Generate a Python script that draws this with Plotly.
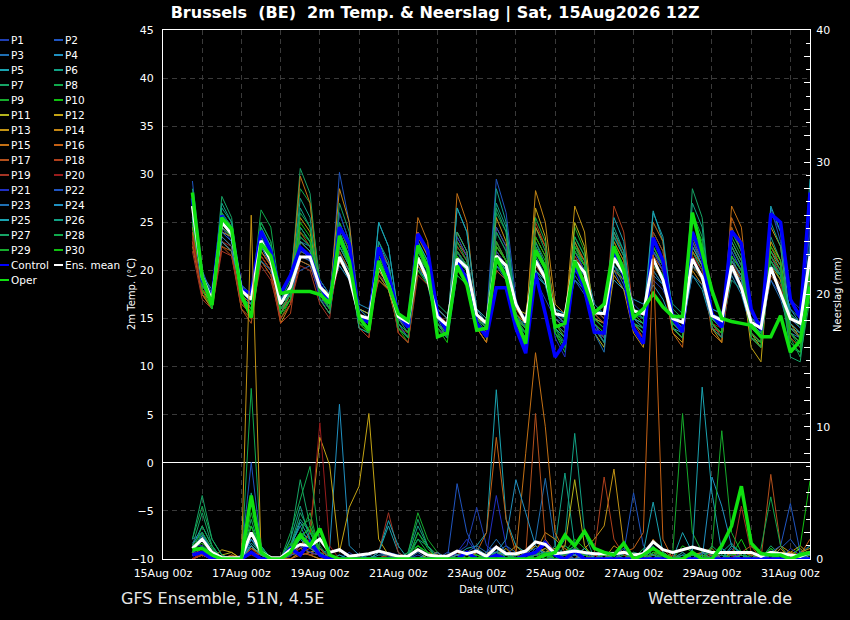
import pandas as pd
import plotly.graph_objects as go

# 6-hourly steps, 15Aug 18z .. 31Aug 12z (64 steps)
times = pd.date_range("2026-08-15 18:00", periods=64, freq="6h")

names = [f"P{i}" for i in range(1, 31)]
colors = ["#1f3fb4", "#1f55c0", "#1f6fb2", "#2090c0", "#1aa3b0", "#12a285",
          "#16a465", "#10a84c", "#16ac2c", "#10c010", "#b4b41c", "#c4a414",
          "#c49414", "#c48614", "#c47014", "#c46014", "#b4501c", "#b0401c",
          "#a43424", "#981c1c", "#2030c4", "#2055c0", "#1f70b2", "#2090c0",
          "#1aa3b0", "#12a285", "#16a465", "#10a84c", "#16ac2c", "#10c010"]

# 2m temperature (°C)
T_P1 = [27.0, 19.5,17.0,24.5,23.0, 18.5,17.5,22.0,20.5, 16.0,17.5,22.5,21.0, 18.0,16.5,22.0,19.0, 15.5,14.5,19.5,18.5, 14.5,13.5,22.0,20.0, 16.0,15.0,20.5,19.5, 15.0,14.0,22.5,21.0, 16.5,15.0,19.0,17.0, 15.0,14.5,20.0,18.5, 14.0,13.0,22.5,20.5, 16.5,15.5,19.0,18.0, 15.5,15.0,21.0,19.5, 14.5,13.5,22.0,20.0, 15.5,14.5,19.0,17.5, 14.0,13.5,20.5]
T_P2 = [29.3, 20.0,16.5,26.0,24.5, 18.0,16.5,24.0,22.0, 17.0,19.0,20.0,20.5, 17.5,16.0,30.2,25.0, 16.0,15.5,21.0,19.0, 15.5,14.0,24.0,21.5, 15.0,13.0,22.0,20.0, 16.0,15.0,29.5,26.0, 17.0,14.0,21.0,19.5, 16.0,15.5,19.0,17.5, 14.5,13.5,20.0,18.0, 15.0,14.0,23.5,21.0, 14.0,13.0,21.5,19.0, 16.0,15.5,20.0,18.0, 13.5,12.5,26.5,23.0, 17.0,15.5,24.0]
T_P3 = [25.5, 18.5,17.5,24.0,23.5, 17.5,16.5,23.5,21.5, 16.5,17.5,23.0,22.5, 18.5,17.0,21.0,19.5, 14.5,14.0,20.5,18.0, 15.0,14.5,21.0,19.0, 15.5,14.0,20.0,19.5, 14.5,13.5,24.0,22.0, 15.5,14.0,22.5,20.0, 15.5,15.0,22.0,20.0, 16.0,15.0,20.5,18.5, 15.5,15.0,19.5,18.5, 15.0,14.0,23.0,20.5, 15.5,15.0,21.5,19.0, 15.0,14.0,19.0,17.0, 13.5,13.0,19.0]
T_P4 = [26.0, 18.5,16.5,25.0,24.0, 17.5,16.0,22.5,20.5, 16.0,17.0,24.5,23.0, 19.0,17.5,20.5,19.0, 16.0,15.5,23.0,20.5, 15.0,13.5,20.5,18.5, 14.0,13.0,19.5,18.5, 16.0,14.5,20.5,19.5, 14.0,13.0,23.0,20.5, 15.0,14.0,22.5,21.0, 16.5,15.5,19.0,18.0, 17.0,16.5,18.5,17.0, 14.5,13.5,22.0,20.0, 16.0,15.5,19.5,17.5, 14.0,13.0,21.5,19.5, 16.0,15.0,22.5]
T_P5 = [24.5, 19.0,17.0,24.0,23.0, 18.0,17.5,23.0,21.0, 17.0,18.5,21.0,20.5, 18.0,16.0,24.0,21.5, 14.0,13.5,25.0,22.5, 15.5,14.5,20.0,19.0, 14.5,13.5,26.5,24.0, 15.5,14.0,21.0,19.5, 15.0,14.5,20.0,18.5, 16.0,15.5,20.5,19.5, 15.0,14.0,23.5,21.5, 16.0,15.0,26.2,23.0, 15.5,14.5,19.5,18.0, 14.5,13.0,21.0,19.0, 15.0,14.5,22.0,20.5, 15.5,14.5,29.5]
T_P6 = [27.5, 19.0,16.5,26.5,25.0, 18.0,16.5,24.0,22.0, 15.5,18.0,26.5,24.5, 17.0,16.5,23.0,20.5, 15.0,14.5,21.5,19.5, 14.0,13.0,23.0,21.0, 15.5,14.5,21.5,20.5, 15.0,14.0,28.5,25.0, 16.0,15.0,19.5,18.5, 14.5,13.5,21.5,20.0, 15.0,14.5,24.5,22.0, 14.5,13.5,22.0,20.0, 16.5,15.5,20.5,19.0, 15.5,14.0,19.0,18.0, 14.5,13.5,23.5,21.0, 14.0,13.5,21.0]
T_P7 = [28.5, 19.5,17.0,27.7,25.5, 17.0,16.0,25.0,23.0, 16.5,18.0,30.6,28.0, 18.0,16.5,22.0,20.0, 15.5,15.0,20.0,18.5, 15.0,14.5,22.5,20.5, 16.5,15.5,20.0,19.0, 15.0,13.5,23.0,21.0, 14.0,12.0,24.5,22.0, 16.0,15.0,19.5,18.0, 15.5,14.5,22.0,20.0, 16.0,15.5,20.5,19.0, 14.0,13.0,28.5,25.5, 15.0,14.0,21.0,19.5, 13.0,12.5,20.0,18.0, 12.0,11.5,18.0]
T_P8 = [26.5, 18.0,16.0,25.5,24.5, 18.5,17.0,26.3,24.5, 17.0,19.0,28.5,27.0, 19.0,17.5,26.0,23.0, 16.0,15.0,19.5,18.0, 14.5,13.0,21.5,19.5, 14.0,13.0,22.0,20.5, 14.0,12.5,26.0,24.0, 15.0,13.5,23.0,21.0, 13.5,11.5,23.0,20.5, 14.5,13.5,20.5,19.0, 15.0,14.0,24.0,22.0, 16.0,15.0,22.0,20.0, 15.0,14.5,22.5,20.5, 14.0,13.0,21.0,19.0, 13.0,11.0,17.0]
T_P9 = [27.0, 19.0,17.5,25.0,24.0, 17.5,16.0,24.5,22.5, 16.0,17.5,22.0,21.5, 18.5,17.0,23.5,21.0, 14.5,14.0,22.0,20.0, 15.5,14.0,20.5,19.0, 15.0,14.0,22.5,21.0, 15.5,14.5,21.0,19.5, 14.5,13.0,21.5,19.5, 14.0,12.5,24.5,22.0, 15.5,14.5,22.0,20.5, 14.5,14.0,21.0,19.0, 15.0,14.0,25.5,23.0, 14.0,13.0,20.0,18.5, 15.0,14.0,21.0,19.0, 15.5,14.0,21.0]
T_P10 = [25.5, 18.0,16.5,26.0,24.5, 17.5,15.5,23.5,21.5, 15.0,17.0,24.0,23.0, 17.0,15.5,25.0,22.5, 15.5,14.5,21.0,19.0, 14.0,12.5,20.0,18.5, 15.0,14.0,19.5,18.5, 14.5,13.0,22.0,20.5, 15.5,14.0,20.5,19.0, 15.0,14.0,21.0,19.5, 14.0,13.0,23.0,21.0, 16.0,15.0,20.0,18.5, 15.5,14.5,20.5,19.0, 15.0,14.0,24.5,22.0, 14.5,13.5,20.0,18.5, 12.5,11.5,19.5]
T_P11 = [25.0, 18.0,17.0,24.5,23.5, 17.0,16.5,23.0,21.0, 16.5,18.0,21.5,21.0, 18.5,17.5,21.0,19.5, 16.0,15.5,19.0,18.0, 14.5,13.5,22.0,20.0, 15.5,14.5,23.5,21.5, 15.0,14.5,20.0,19.0, 16.0,15.5,22.5,20.5, 14.5,13.5,25.0,22.5, 13.5,12.0,21.5,19.5, 15.0,14.5,22.5,20.5, 14.0,13.0,21.0,19.5, 15.5,14.5,20.5,19.0, 13.5,12.0,22.5,20.5, 14.5,13.5,20.0]
T_P12 = [24.0, 18.0,16.5,23.5,22.5, 17.0,15.0,21.5,20.0, 15.5,17.0,23.0,22.0, 17.5,16.0,22.5,20.5, 15.0,14.0,20.0,18.5, 15.0,14.0,21.5,20.0, 14.5,13.0,24.0,22.0, 14.0,12.5,22.5,21.0, 15.5,14.5,26.5,23.5, 14.5,13.0,22.0,20.5, 15.0,14.5,20.0,19.0, 15.5,14.5,23.5,21.0, 13.5,12.5,22.5,20.5, 14.0,13.0,21.5,20.0, 12.0,10.5,23.0,21.0, 13.5,12.5,18.5]
T_P13 = [23.5, 17.5,16.0,23.0,22.0, 16.5,15.5,21.0,19.5, 16.0,17.5,25.5,24.0, 18.0,16.5,21.5,19.5, 15.5,15.0,19.5,18.0, 14.0,13.0,23.5,21.5, 15.0,14.0,21.0,20.0, 15.5,14.5,25.5,23.0, 14.5,13.0,24.5,22.5, 15.5,14.5,26.7,24.0, 14.0,12.5,19.5,18.0, 13.5,12.0,21.5,20.0, 14.5,13.5,23.5,21.0, 14.0,12.5,23.0,21.0, 13.5,12.5,24.5,22.5, 14.5,13.0,21.0]
T_P14 = [24.5, 18.5,17.0,24.0,23.5, 17.0,16.0,22.0,20.5, 14.5,16.5,22.0,21.5, 18.0,17.0,28.5,25.0, 15.0,14.0,21.0,19.0, 14.5,13.5,21.0,19.5, 16.0,15.0,22.0,20.5, 15.0,14.0,21.5,20.0, 15.0,14.0,28.3,25.0, 16.5,15.5,23.0,21.0, 14.5,13.0,22.0,20.0, 14.0,13.0,22.0,20.5, 15.5,14.5,20.0,18.5, 15.0,14.0,22.5,20.5, 14.0,13.0,20.5,19.0, 15.0,14.0,20.0]
T_P15 = [23.0, 17.5,16.0,23.5,22.5, 17.5,16.5,22.5,21.0, 15.5,17.5,29.8,27.0, 17.5,16.0,23.0,21.5, 14.5,13.5,20.0,18.5, 15.5,14.5,25.5,23.0, 14.5,13.0,28.0,25.0, 15.0,14.0,22.0,20.5, 16.0,14.5,23.5,21.5, 15.0,14.0,21.5,20.0, 15.5,14.5,23.0,21.0, 14.5,13.5,25.0,23.0, 14.0,13.0,22.0,20.5, 13.5,12.5,26.7,24.5, 14.5,13.5,22.0,20.0, 13.0,12.0,20.0]
T_P16 = [22.5, 17.5,16.5,22.5,22.0, 16.0,15.0,22.0,20.5, 15.0,16.5,21.0,20.5, 17.5,16.5,24.5,22.0, 14.0,13.0,21.5,19.5, 13.5,12.5,20.5,19.0, 15.5,14.5,23.0,21.5, 14.0,12.5,21.0,19.5, 15.5,14.5,22.0,20.0, 14.5,13.5,20.5,19.0, 16.0,15.0,22.5,20.5, 15.0,14.0,20.5,19.0, 13.5,12.0,24.0,21.5, 14.5,13.5,25.5,23.0, 13.0,12.0,21.0,19.5, 14.0,13.0,17.5]
T_P17 = [24.0, 18.0,16.0,22.5,21.5, 16.0,14.5,21.5,20.0, 15.5,17.0,24.0,22.5, 17.0,15.5,22.0,20.0, 15.0,14.5,22.5,20.5, 14.5,13.5,24.0,22.0, 14.0,13.0,21.5,20.0, 15.0,14.0,24.5,22.5, 14.0,12.5,21.0,19.5, 14.0,13.0,22.5,21.0, 15.0,14.0,24.0,21.5, 14.5,13.0,21.5,20.0, 15.5,14.5,21.5,20.0, 14.0,13.5,24.5,22.0, 14.5,13.5,19.5,18.0, 14.0,13.0,19.5]
T_P18 = [23.0, 17.5,16.5,23.0,22.0, 17.0,16.0,21.0,19.5, 14.5,15.5,22.5,21.5, 17.5,17.0,21.0,19.5, 15.5,14.5,19.0,18.0, 15.0,14.0,22.5,20.5, 14.5,13.5,20.0,19.0, 16.0,15.0,23.0,21.0, 15.0,14.0,25.0,22.5, 15.0,14.0,20.0,19.0, 14.5,13.5,26.7,24.0, 15.5,14.5,21.0,19.5, 14.5,13.5,23.0,21.0, 15.0,14.0,21.0,19.5, 13.5,12.5,22.5,20.5, 14.5,13.5,18.5]
T_P19 = [22.0, 17.0,16.0,22.0,21.5, 16.5,15.5,20.5,19.0, 15.0,16.5,20.5,20.0, 16.5,15.0,23.5,21.0, 14.0,13.0,20.5,19.0, 13.5,12.5,19.5,18.5, 15.0,14.0,22.5,21.0, 14.5,13.5,20.0,19.0, 14.0,13.0,22.0,20.5, 15.5,14.5,21.0,19.5, 14.0,13.0,21.5,20.0, 14.0,13.0,24.0,22.0, 15.0,14.0,20.5,19.0, 14.5,13.0,20.0,18.5, 15.0,14.0,21.5,19.5, 13.5,12.5,19.0]
T_P20 = [23.5, 18.0,17.0,23.0,22.5, 17.0,16.5,21.5,20.0, 16.0,17.5,21.5,21.0, 17.5,16.0,21.0,19.5, 15.5,15.0,19.5,18.5, 14.0,13.5,21.0,19.5, 15.5,14.5,21.0,20.0, 14.5,13.5,21.5,20.0, 15.5,14.0,20.5,19.0, 14.5,13.5,21.5,20.0, 15.5,14.5,21.0,19.5, 14.0,13.0,22.0,20.5, 14.5,13.5,21.5,20.0, 14.5,14.0,21.0,19.0, 14.0,13.0,20.0,18.5, 14.5,13.5,19.5]
T_P21 = [28.0, 19.0,16.5,25.5,24.0, 18.0,16.5,23.5,21.5, 16.5,18.0,21.5,21.0, 17.0,16.0,26.0,23.0, 15.5,14.5,22.0,20.0, 15.0,14.0,22.5,20.5, 14.0,13.0,23.5,21.5, 15.5,14.5,22.0,20.5, 14.5,13.0,22.5,20.5, 13.0,11.0,20.5,19.0, 14.5,13.0,22.5,20.5, 15.0,14.0,22.0,20.0, 14.5,13.5,21.0,19.5, 15.5,14.5,22.5,20.5, 14.5,13.0,26.0,24.0, 17.0,16.0,24.5]
T_P22 = [26.0, 20.0,17.5,24.0,23.0, 18.5,17.5,22.5,21.0, 17.0,18.5,22.0,21.5, 19.0,17.5,24.0,21.5, 16.0,15.0,20.5,19.0, 14.5,13.0,21.5,19.5, 15.0,14.0,22.0,20.5, 14.5,13.5,24.5,22.5, 15.0,13.5,21.5,19.5, 15.5,14.5,22.0,20.0, 14.5,12.5,23.5,21.5, 16.0,15.0,20.0,18.5, 15.0,14.0,23.0,21.0, 14.0,13.0,22.0,20.0, 14.0,13.5,21.5,20.0, 15.0,14.0,22.0]
T_P23 = [25.0, 19.0,17.0,23.5,22.5, 17.5,16.0,22.5,21.0, 15.5,17.0,21.5,21.0, 18.0,16.5,22.5,20.5, 15.5,14.5,21.0,19.5, 15.0,14.0,22.0,20.5, 14.5,13.0,21.0,20.0, 15.5,14.5,20.5,19.0, 14.5,13.5,22.0,20.5, 15.0,14.0,21.0,19.5, 13.5,11.5,21.0,19.5, 15.5,14.5,22.0,20.5, 15.0,14.0,19.5,18.5, 14.5,13.5,21.5,20.0, 13.0,12.0,21.0,19.5, 13.5,12.5,23.0]
T_P24 = [26.5, 19.5,18.0,23.0,22.0, 18.0,17.0,21.0,20.0, 17.0,17.5,23.5,22.5, 18.5,17.0,21.5,20.0, 16.5,16.0,22.0,20.5, 15.5,14.5,21.0,19.5, 16.0,15.0,20.5,19.5, 15.0,14.0,21.5,20.0, 14.5,13.5,19.5,18.5, 15.5,14.5,19.0,18.0, 16.0,15.5,20.5,19.5, 15.0,14.5,21.0,19.5, 14.0,13.5,20.5,19.5, 15.0,14.5,20.0,19.0, 15.0,14.0,20.5,19.5, 16.0,14.5,20.0]
T_P25 = [25.5, 18.5,17.0,25.5,24.0, 17.0,16.5,24.0,22.5, 16.0,17.5,23.0,22.0, 17.5,16.0,23.5,21.5, 15.0,14.5,25.0,22.5, 15.5,14.5,23.0,21.0, 15.0,14.0,26.5,24.0, 16.0,15.0,21.5,20.0, 15.0,14.0,20.0,19.0, 14.0,13.0,22.5,20.5, 15.0,14.0,25.5,23.0, 14.5,13.5,26.0,23.5, 15.5,14.5,22.5,20.5, 15.0,14.0,21.0,19.5, 14.0,13.0,26.7,24.0, 14.5,13.5,21.5]
T_P26 = [27.0, 19.0,16.0,27.0,25.0, 17.5,16.0,24.5,22.5, 16.5,17.5,27.5,25.5, 17.0,15.5,22.5,20.5, 14.0,13.5,23.0,21.0, 14.5,13.5,21.5,20.0, 15.5,14.0,24.0,22.0, 14.5,13.0,27.0,24.5, 15.5,14.0,22.0,20.0, 14.5,13.5,23.5,21.5, 14.0,12.5,24.0,22.0, 15.0,14.0,23.0,21.0, 14.0,13.0,27.0,24.5, 15.0,14.0,23.0,21.0, 14.5,13.5,25.0,22.5, 14.0,13.0,27.0]
T_P27 = [26.0, 18.5,16.5,24.5,23.5, 17.0,15.5,23.5,21.5, 15.5,17.0,24.5,23.0, 18.0,16.0,27.0,24.0, 15.0,14.0,20.5,19.0, 14.0,13.0,22.5,20.5, 14.5,13.5,21.0,20.0, 15.0,14.0,26.5,24.0, 14.0,12.5,21.0,19.5, 13.5,12.5,20.0,19.0, 15.0,14.0,23.5,21.5, 14.5,14.0,20.5,19.5, 15.0,14.0,24.0,22.0, 14.0,13.0,24.0,22.0, 14.0,13.0,22.0,20.5, 11.0,10.5,18.5]
T_P28 = [27.5, 19.5,17.5,26.0,24.5, 18.0,17.0,25.0,23.0, 16.5,18.0,26.0,24.5, 18.5,17.0,25.0,22.5, 15.5,14.5,22.0,20.0, 14.5,13.5,22.0,20.0, 14.5,13.0,23.0,21.0, 15.0,14.0,24.0,22.0, 14.5,13.5,25.5,23.0, 14.0,12.0,23.5,21.5, 14.5,13.5,21.5,20.0, 16.0,15.0,22.5,20.5, 14.5,13.5,26.0,23.5, 15.0,14.0,22.5,20.5, 13.5,12.5,21.0,19.5, 13.5,12.0,20.5]
T_P29 = [26.5, 19.0,16.5,25.5,24.0, 17.5,16.0,23.0,21.5, 16.0,17.5,23.5,22.5, 18.0,16.5,24.5,22.0, 15.0,14.0,21.5,19.5, 14.0,13.0,21.0,19.5, 15.0,14.0,22.0,20.5, 14.5,13.0,23.0,21.0, 15.0,13.5,22.5,20.5, 14.5,13.0,22.0,20.5, 15.0,14.0,22.5,20.5, 14.5,13.5,22.5,20.5, 14.0,13.0,23.5,21.5, 14.5,13.5,23.5,21.5, 13.5,12.5,21.5,20.0, 12.5,11.5,19.5]
T_P30 = [25.0, 18.0,16.0,25.0,23.5, 17.0,15.5,24.0,22.0, 15.5,17.0,25.0,23.5, 17.5,16.0,23.0,21.0, 14.5,13.5,20.5,19.0, 14.5,13.5,21.5,20.0, 14.0,12.5,21.5,20.0, 14.5,13.0,22.5,21.0, 15.0,14.0,23.5,21.5, 13.5,12.0,22.5,20.5, 14.5,13.5,21.0,19.5, 15.5,14.5,21.0,19.5, 14.5,13.5,24.0,22.0, 14.5,13.5,21.5,20.0, 13.0,12.0,22.5,21.0, 13.5,12.5,20.5]
T_CTRL = [27.5, 19.0,17.2,25.7,24.0, 18.0,17.6,24.1,22.0, 17.6,19.5,22.4,21.5, 18.5,16.6,24.5,22.8, 15.1,14.6,22.4,19.5, 15.5,14.1,23.8,22.1, 15.5,13.6,21.0,19.0, 14.5,13.1,18.2,18.2, 14.0,11.4,19.7,15.5, 11.0,12.5,20.7,18.0, 13.6,13.5,22.1,19.5, 14.0,12.4,23.4,21.0, 15.0,13.6,24.0,21.5, 15.5,14.1,24.1,22.8, 16.0,13.8,25.9,25.0, 17.0,15.1,28.1]
T_OPER = [28.1, 19.3,16.4,25.5,24.3, 17.5,15.1,22.8,21.5, 17.6,17.8,17.8,17.8, 17.5,16.6,23.6,21.0, 15.1,13.8,21.0,18.5, 15.5,14.8,22.6,20.3, 13.1,13.5,20.5,18.5, 13.8,14.0,21.3,19.3, 15.0,12.4,22.1,20.3, 14.1,14.5,21.0,18.6, 15.6,16.5,22.5,20.0, 15.1,16.0,17.6,16.2, 15.2,15.2,26.0,22.1, 17.9,15.0,14.7,14.5, 14.3,13.1,13.1,15.3, 11.5,12.7,18.3]
T_MEAN = [26.7, 19.3,16.9,25.0,23.8, 17.9,17.0,23.1,21.0, 16.5,18.3,21.4,21.4, 18.3,17.2,21.4,19.3, 15.3,15.0,20.7,18.5, 15.2,14.6,21.3,19.0, 15.2,14.3,21.2,20.3, 15.4,14.5,21.5,20.5, 16.5,14.6,21.0,19.2, 15.5,15.3,21.0,19.8, 15.6,15.5,21.3,19.7, 15.8,15.5,21.2,19.0, 15.0,14.6,21.2,19.3, 15.3,14.8,20.5,18.2, 14.6,14.0,20.3,17.6, 15.0,14.5,21.5]

# 6-hourly precipitation (mm)
R_P1 = [0.5, 1.0,0.3,0,0, 0.2,1.5,0.5,0, 0,0.2,1.0,0.5, 0.8,0.3,0,0.5, 0,0,0.5,0.2, 0,0,0,0.3, 0.5,0,0.5,1.0, 3.9,1.0,0.5,0, 0,0.3,0.5,1.5, 0.5,0,0,0.5, 0,0.3,0,0, 0,0,0.8,0.3, 0,0.5,0,0, 0.2,0,1.0,0.3, 0,0,0.5,0, 0,0.5,1.0]
R_P2 = [1.5, 2.0,0.5,0,0, 0.3,7.3,1.0,0, 0,0.5,1.5,0.8, 0.5,0,0.3,0, 0,0,0,0.5, 0.3,0,0,0, 0,0.5,0.3,0, 0,0.5,1.0,0.3, 0,0,0.8,0.5, 0,0.3,0.5,0, 0,0,0,0.5, 5.0,1.0,0.3,0, 0,0,0.5,0.3, 0,0.5,0,0, 0.3,0,0,0.8, 1.5,0.5,0]
R_P3 = [0.3, 0.8,0,0,0, 0,1.0,0.3,0, 0,0.3,0.8,1.2, 0.5,0,0,0, 0,0.3,0,0, 0,0,0.5,0, 0,0,0.3,0.5, 0,0,0.5,1.0, 0.5,0.3,1.5,6.1, 1.0,0.3,0,0, 0,0,0.5,0.3, 0,0.5,1.0,0, 0,0,0,0.5, 0.3,0,0.8,0, 0,0.3,0,0, 0.5,0,0.3]
R_P4 = [0.8, 1.5,0.3,0,0, 0,0.8,0.5,0, 0,0.5,0.3,0.5, 0.3,0.8,11.7,1.0, 0.3,0,0,0, 0,0,0,0.3, 0,0,0,0, 0.5,0.3,1.0,0, 0,0,0.3,0.5, 0.8,0,0,0, 0.3,0,0.5,0, 0,0,0,0.5, 0,0.3,0,0, 0,0.8,0.3,0, 0,0,0.5,0.3, 0,0,0.5]
R_P5 = [1.0, 2.5,1.0,0,0, 0,1.2,0.5,0, 0,0.8,2.0,1.5, 0.5,0,0.3,0, 0,0,0.5,2.5, 0.5,0,0,0, 0,0,0.3,0.8, 1.0,2.0,12.8,3.0, 1.0,0.5,0.3,0, 0,0.5,0.8,0.3, 0,0,0,0, 0.5,0.3,0,0.5, 0,0,0.3,0, 0,0,0.5,0.3, 0,0,0.3,0, 0.3,0,0]
R_P6 = [0.5, 2.0,0.8,0,0, 0,2.5,0.8,0, 0,1.0,3.0,2.0, 0.5,0,0,0, 0,0,0,0, 0,0.3,1.5,1.0, 0,0,0,0.5, 0.3,0,0.8,0.3, 0,0,0.5,0.3, 1.0,6.5,1.0,0.3, 0,0,0.3,0, 0,0,0.8,0.3, 0,0,0,0.5, 0.3,0.5,1.2,0.3, 0,0,0,0, 0,0.3,0.5]
R_P7 = [1.0, 3.5,1.0,0,0, 0,3.0,0.5,0, 0,1.5,6.0,2.5, 0.8,0,0,0, 0,0,0,0, 0,0,2.0,1.0, 0.3,0,0,0, 0,0,0.5,0, 0.3,0,0.3,0.8, 0,1.0,0.5,0, 0,0,0,0.3, 0,0,0,0, 0.5,0,0,0.3, 0,0,0.5,0, 0,0,1.0,0.3, 0,0.3,1.0]
R_P8 = [1.5, 4.0,1.5,0.3,0, 0,12.9,1.0,0, 0,1.0,2.5,3.0, 0.5,0,0,0, 0,0,0,0, 0,0.5,1.0,0.3, 0,0,0,0, 0,0.5,0.3,0, 0,0,0.5,0, 0.5,0.3,0,0.5, 0.3,0,0,0, 0,0.8,0.3,0, 0,0,0,0, 0.3,0,0.5,0, 0.5,0,0,0.3, 0,0,0.3]
R_P9 = [0.5, 1.5,0.5,0,0, 0,1.5,0.3,0, 0,0.8,2.0,1.5, 0.3,0,0,0, 0,0,0,0.3, 0,0.5,3.5,1.5, 0.5,0,0,0, 0,0.3,0.8,0, 0,0,0.3,0.5, 0,0.5,1.0,0.3, 0,0,0,0.3, 0,0,0.5,0, 0.5,11.0,2.0,0.5, 0,0.3,0,0, 0.3,0,0.8,0.3, 0,0,0.5]
R_P10 = [0.8, 1.2,0.3,0,0, 0,2.0,0.8,0, 0,1.2,1.8,2.2, 0.5,0,0,0, 0,0,0,0, 0,0,1.0,0.5, 0,0,0,0.3, 0.3,0,0,0, 0.5,0,0.3,0, 0,0.5,1.5,0.8, 0.3,0,0,0, 0,0,0.3,0.5, 0,1.0,0.5,0, 0,0,0.3,1.5, 0,0,0.8,0, 0.3,0,0]
R_P11 = [0, 0.5,0,0.3,0.5, 0,0.8,0.5,0, 0,0,0.5,0.3, 0,0.3,0,0, 0,0,0,0, 0,0,0,0.3, 0.5,0,0,0, 0,0.3,0.5,0.3, 0,0.3,1.0,0.5, 0.8,1.0,6.0,1.0, 0,0,0.5,0, 0.3,0,0,0.5, 0,0,0.3,0, 0,0.5,0,0.3, 0,0,0,0.5, 0.3,0.8,0]
R_P12 = [0, 0.3,0,0.7,0.5, 0,1.0,0.3,0, 0,0.3,1.0,2.0, 9.2,7.1,0.5,3.9, 5.5,11.0,1.5,0.3, 0,0,0,0, 0,0.3,0,0, 0.5,0,0.3,0.8, 0,0.5,1.0,0.3, 0,0,0.8,0.3, 0,0.5,0,0, 0,0,0.3,0, 0.3,0,0,0.5, 0,0,0.3,0, 0,0.3,0,0.5, 0.5,1.0,0.3]
R_P13 = [0.3, 0.5,0,0,0.3, 0,26.0,0.5,0, 0,0.5,0.3,0.5, 0.8,0,0,0, 0,0,0,0, 0,0,0,0, 0,0.3,0,0, 0,0,0.5,0.3, 1.0,0.3,0.5,0.8, 0.3,0,0,0.8, 1.5,2.5,6.8,1.0, 0,0,0.5,0.3, 0,0,0,0.3, 0,0,0.5,0, 0,0,0.3,1.0, 0.5,0,0]
R_P14 = [0.5, 0.3,0,0,0, 0,0.5,0.3,0, 0,0.3,0.8,0.5, 0.3,0,0,0, 0,0,0,0, 0,0,0,0.5, 0.3,0,0,0.3, 0,0.5,0.3,0, 0.3,0,0.5,2.0, 1.5,0.8,0.3,0, 0,0,1.0,0.5, 0,0.3,0,0, 0,0,0.3,0.5, 0.8,0,0.3,0, 0,0.3,0,0.8, 0,0.5,0.8]
R_P15 = [0.3, 0.5,0,0,0, 0,1.0,0.3,0, 0,0,0.5,0.3, 0,0,0,0, 0,0,0,0, 0,0,0,0, 0,0,0,0.5, 0,0.3,1.0,0.5, 0.3,8.0,15.6,10.0, 2.0,0.5,0.3,0, 0,0.3,0,0, 0.5,0,1.5,0.5, 0,0,0,0.3, 0,0,0.5,0.3, 0,0,0,0.5, 0,0.3,0.5]
R_P16 = [0, 0.3,0,0,0, 0,0.8,0.3,0, 0,0,0.3,0.5, 0.3,0,0,0, 0,0,0,0.3, 0,0,0,0, 0,0,0.3,0, 0.5,2.0,9.2,3.0, 0.5,0,0.3,0, 0,0,0.5,0.3, 0,0,0,0.5, 0.8,2.0,23.0,1.5, 0,0,0.3,0, 0,0,0,0.5, 0.3,0,0,0, 0.5,0.3,1.5]
R_P17 = [0.3, 0.8,0,0,0.3, 0,0.5,0,0, 0,0.3,0.5,0.8, 0.5,0,0,0, 0,0,0,0, 0,0,0,0, 0,0,0,0, 0,0,0.3,0.5, 0,0.3,11.0,1.5, 0.5,0,0.8,0.3, 0,0.5,0,0, 0,0,0.5,0.3, 0,0,0,0, 0.3,0,0,0.5, 1.0,0,6.4,1.0, 0,0.3,0.5]
R_P18 = [0, 0.5,0,0,0, 0,0.5,0.3,0, 0,0.3,1.0,1.5, 0.8,0,0,0, 0,0,0,0.5, 0,0,0,0, 0,0,0.5,0, 0,0,0.3,0, 0,0.5,0.3,0, 0,0,0.5,0.3, 0.5,6.2,1.5,0.3, 0,0.5,0,0.3, 0,0,0,0, 0.5,0,0.3,0, 0,0.3,0,0, 0,0,0.5]
R_P19 = [0, 0.3,0,0,0, 0,0.8,0,0, 0,0.5,0.5,0.3, 0.5,0.3,0,0, 0,0,0.5,3.5, 0.5,0,0,0, 0,0,0,0.3, 0,0,0.5,0.3, 0,0.3,0.5,0, 0,0.3,0,0, 0.3,0,0.5,0, 0,0,0.3,0.8, 0,0,0,0.3, 0,0,0,4.0, 0.5,0,0,0.3, 0,0,0]
R_P20 = [0, 0.5,0,0,0, 0,0.3,0,0, 0,0.3,0.8,2.0, 10.3,1.0,0,0, 0,0,0,0.3, 0,0,0,0, 0,0,0,0, 0,0.3,0,0.5, 0,0,0.5,0.3, 0,0,0,0.5, 0.3,0,0,0, 0,0,0.5,0, 0.3,0,0,0, 0,0,0.3,0, 0,0,0.5,0.3, 0,0,0]
R_P21 = [1.0, 1.0,0.3,0,0, 0,1.5,0.5,0, 0,0.5,1.0,0.5, 0.3,0,0,0, 0,0,0,0, 0,0,0.3,0, 0,0,0.5,1.5, 0.5,0.3,4.8,1.0, 0,0.3,0,0.5, 0.3,0,0,0, 0,0,0.3,0, 0.5,0,0,0, 0,0.3,0,0, 0,0,0,0.5, 0,0,0.3,0, 0.8,0.3,0]
R_P22 = [0.5, 0.8,0.3,0,0, 0,2.0,0.8,0, 0,0.3,0.5,1.0, 0.5,0,0,0, 0,0,0,0, 0,0,0,0, 0.5,0,5.7,2.0, 0.5,0,0.8,0.3, 0,0,0.3,0, 0,0.5,0,0, 0,0.3,0,0.5, 0,0,0,0.3, 0,0,0.5,0, 0,0,0.3,0, 0,0,0.5,1.0, 4.2,0.5,0]
R_P23 = [1.2, 2.0,0.5,0,0, 0,1.0,0.3,0, 0,1.0,2.5,1.0, 0.3,0,0,0, 0,0,0,0, 0,0,0,0, 0,0,0,0.5, 1.0,0.5,1.5,0.5, 0,0.5,0.8,0.3, 0,0,0.3,0, 0.5,0,0.3,0.8, 0,0.3,0,0, 0,0,0,0.5, 0,0.3,0,0, 0,0,0,0, 0,0.3,0.5]
R_P24 = [0.8, 1.5,0.5,0,0, 0,1.5,0.5,0, 0,0.5,1.5,0.8, 0.3,0,0,0, 0,0,0.3,0.3, 0,0,0,0.5, 0,0,0.3,0, 0.8,0.3,0.5,1.5, 6.0,3.5,1.0,0.3, 0,0,0,0.3, 0.5,0,0,0, 0,0.5,0.3,0, 0,0,0.3,0, 6.2,4.0,1.0,0.5, 0,0,0.3,0, 0,0.3,0]
R_P25 = [0.5, 1.8,0.5,0,0, 0,1.0,0.3,0, 0,0.8,2.8,1.5, 0.3,0,0,0, 0,0,0.5,2.9, 1.0,0,0,0, 0,0,0,0, 0,0.3,0.5,0.3, 0,0,0.5,0, 0,0.5,0.3,0.8, 0,0,0.3,0.5, 0,0.5,4.3,0.5, 0,2.0,0.5,13.0, 5.0,0.5,0,0.3, 0,0,0.5,0, 0,0.3,0.3]
R_P26 = [0.8, 1.5,0.5,0,0, 0,5.0,1.0,0, 0,1.5,4.0,1.5, 0.5,0,0,0, 0,0,0,0, 0,0.3,2.5,1.0, 0,0,0,0, 0,0,0.3,0.5, 0,0,0.3,0.5, 0.3,1.5,9.5,2.0, 0,0.5,0.5,0, 0,0,0.5,0, 0,0.3,0.3,0, 0,0,1.0,0.5, 0,0,0.5,0.3, 0,0,0.5]
R_P27 = [1.5, 4.8,1.5,0.3,0, 0,2.5,0.5,0, 0,1.0,3.5,2.0, 0.5,0,0,0, 0,0,0,0, 0,0.5,3.0,1.0, 0,0,0,0, 0,0,0.5,0, 0.3,0,0,0.5, 0,0.5,1.0,0, 0,0,0,0.5, 0,0,0.3,0, 0,0.5,0,0, 1.0,0.3,0,0, 0,0.5,0.3,0, 0,0.3,0.5]
R_P28 = [0.5, 2.5,1.0,0,0, 0,2.0,0.8,0, 0,2.0,4.5,7.0, 1.0,0,0,0, 0,0,0,0, 0,0,1.5,0.5, 0,0,0,0, 0,0,0,0.3, 0,0,0.5,0.3, 0,0.3,0.5,0.3, 0,0,0,0, 0.3,0,0,0.5, 0,0,0.3,0, 0,0.5,0,0.3, 0,0.8,4.7,1.0, 0,0.5,0.3]
R_P29 = [1.0, 2.0,0.8,0,0, 0,3.5,0.8,0, 0,1.0,2.0,3.5, 0.5,0,0,0, 0,0,0,0, 0,0,2.0,0.8, 0,0,0,0.3, 0,0,0.3,0, 0,0.3,0,0.5, 0,0,0.8,0.3, 0,0,0,0, 0.5,0,0.5,0, 0,0,0,0, 0.8,9.7,2.0,0.5, 0,0,0,0.3, 0.3,0,0.5]
R_P30 = [0.5, 1.5,0.5,0,0, 0,2.5,0.5,0, 0,1.0,1.5,2.5, 0.3,0,0,0, 0,0,0,0, 0,0,1.0,0.5, 0,0,0,0, 0.3,0,0,0, 0,0,0.5,0, 0.3,0,0.5,0, 0,0.3,0,0, 0,0,0.5,0.3, 0,0,0,0.3, 0,0,0.3,0.5, 0.5,0,0,0.3, 0,1.0,5.9]
R_CTRL = [0.3, 0.5,0,0,0, 0,0.5,0,0, 0,0.8,0.3,1.3, 0.3,0,0,0, 0,0,0,0, 0,0,0,0, 0,0,0,0.5, 0,0,0.3,0, 0,0.3,0.5,1.2, 0.3,0,0.6,0, 0,0,0,0, 0,0,0,0, 0,0,0,0, 0,0,0,0, 0,0,0,0, 0,0,0]
R_OPER = [0.7, 0.8,0.3,0,0, 0,4.8,0.5,0, 0,0.5,1.8,1.0, 2.3,0.3,0,0, 0,0,0,0, 0,0,0,0, 0,0,0,0, 0,0,0,0, 0,0,0,0.3, 0.5,1.8,1.0,2.1, 0.8,0.5,0.3,1.2, 0,0.3,0.8,0.3, 0,0,0.5,0, 0,1.0,2.5,5.5, 1.2,0.4,0.3,0.3, 0,0.3,0.5]
R_MEAN = [0.8, 1.5,0.5,0.1,0.1, 0.1,2.0,0.5,0.1, 0.1,0.7,1.1,1.0, 1.5,0.5,0.7,0.2, 0.3,0.4,0.6,0.4, 0.2,0.2,0.7,0.3, 0.2,0.2,0.6,0.4, 0.6,0.2,0.9,0.4, 0.4,0.6,1.3,1.1, 0.4,0.5,0.6,0.5, 0.4,0.4,0.4,0.5, 0.3,0.4,1.3,0.7, 0.5,0.7,0.9,0.7, 0.5,0.5,0.5,0.5, 0.5,0.2,0.5,0.4, 0.3,0.2,0.5]

temps = [T_P1, T_P2, T_P3, T_P4, T_P5, T_P6, T_P7, T_P8, T_P9, T_P10,
         T_P11, T_P12, T_P13, T_P14, T_P15, T_P16, T_P17, T_P18, T_P19, T_P20,
         T_P21, T_P22, T_P23, T_P24, T_P25, T_P26, T_P27, T_P28, T_P29, T_P30]
rains = [R_P1, R_P2, R_P3, R_P4, R_P5, R_P6, R_P7, R_P8, R_P9, R_P10,
         R_P11, R_P12, R_P13, R_P14, R_P15, R_P16, R_P17, R_P18, R_P19, R_P20,
         R_P21, R_P22, R_P23, R_P24, R_P25, R_P26, R_P27, R_P28, R_P29, R_P30]

for s in temps + rains + [T_CTRL, T_OPER, T_MEAN, R_CTRL, R_OPER, R_MEAN]:
    assert len(s) == 64, len(s)

CTRL_COLOR = "#0000ff"
OPER_COLOR = "#10e010"
GRID = "#3a3a3a"

# plot area in pixels (for placing legend / footer text)
L, R, T, B = 163, 810, 30, 559


def px(x):
    return (x - L) / (R - L)


def py(y):
    return (B - y) / (B - T)


fig = go.Figure()

for name, col, t in zip(names, colors, temps):
    fig.add_trace(go.Scatter(x=times, y=t, mode="lines", name=name,
                             line=dict(color=col, width=1)))
for name, col, r in zip(names, colors, rains):
    fig.add_trace(go.Scatter(x=times, y=r, mode="lines", name=name, yaxis="y2",
                             line=dict(color=col, width=1)))

fig.add_trace(go.Scatter(x=times, y=T_CTRL, mode="lines", name="Control",
                         line=dict(color=CTRL_COLOR, width=3.5)))
fig.add_trace(go.Scatter(x=times, y=T_MEAN, mode="lines", name="Ens. mean",
                         line=dict(color="white", width=3)))
fig.add_trace(go.Scatter(x=times, y=T_OPER, mode="lines", name="Oper",
                         line=dict(color=OPER_COLOR, width=3.5)))
fig.add_trace(go.Scatter(x=times, y=R_CTRL, mode="lines", yaxis="y2",
                         line=dict(color=CTRL_COLOR, width=3.5)))
fig.add_trace(go.Scatter(x=times, y=R_MEAN, mode="lines", yaxis="y2",
                         line=dict(color="white", width=3)))
fig.add_trace(go.Scatter(x=times, y=R_OPER, mode="lines", yaxis="y2",
                         line=dict(color=OPER_COLOR, width=3.5)))

# legend drawn as two columns of swatches + labels
leg_items = [(n, c) for n, c in zip(names, colors)]
col1 = leg_items[0::2] + [("Control", CTRL_COLOR), ("Oper", OPER_COLOR)]
col2 = leg_items[1::2] + [("Ens. mean", "white")]
shapes, annos = [], []
for x0, items in ((0, col1), (54, col2)):
    for k, (n, c) in enumerate(items):
        yy = 40 + 15 * k
        shapes.append(dict(type="line", xref="paper", yref="paper",
                           x0=px(x0), x1=px(x0 + 9), y0=py(yy), y1=py(yy),
                           line=dict(color=c, width=2)))
        annos.append(dict(text=n, xref="paper", yref="paper", x=px(x0 + 9),
                          y=py(yy), xanchor="left", yanchor="middle",
                          showarrow=False, font=dict(size=10.5, color="white")))

annos.append(dict(text="2m Temp. (°C)", xref="paper", yref="paper",
                  x=px(131), y=py(294), xanchor="center", yanchor="middle",
                  textangle=-90, showarrow=False, font=dict(size=10, color="white")))
annos.append(dict(text="GFS Ensemble, 51N, 4.5E", xref="paper", yref="paper",
                  x=px(119), y=py(598), xanchor="left", yanchor="middle",
                  showarrow=False, font=dict(size=16, color="#e6e6e6")))
annos.append(dict(text="Wetterzentrale.de", xref="paper", yref="paper",
                  x=px(794), y=py(598), xanchor="right", yanchor="middle",
                  showarrow=False, font=dict(size=16, color="#e6e6e6")))

DAY = 86400000
fig.update_layout(
    width=850, height=620,
    paper_bgcolor="black", plot_bgcolor="black",
    margin=dict(l=L, r=850 - R, t=T, b=620 - B, autoexpand=False),
    font=dict(family="DejaVu Sans", size=11, color="white"),
    showlegend=False,
    title=dict(text="<b>Brussels\u00a0 (BE)\u00a0 2m Temp. & Neerslag | Sat, 15Aug2026 12Z</b>",
               x=0.512, xanchor="center", y=1 - 12 / 620, yanchor="middle",
               font=dict(size=16, color="white")),
    xaxis=dict(range=["2026-08-15 00:00", "2026-08-31 12:00"],
               tick0="2026-08-15", dtick=2 * DAY, tickformat="%d%b %Hz",
               showgrid=True, gridcolor=GRID, griddash="5px,4px",
               minor=dict(dtick=DAY, showgrid=True, gridcolor=GRID, griddash="5px,4px"),
               showline=True, linecolor="white", linewidth=1, mirror=True,
               ticks="", zeroline=False, ticklabelstandoff=4,
               title=dict(text="Date (UTC)", font=dict(size=10), standoff=6)),
    yaxis=dict(range=[-10, 45], dtick=5, showgrid=True, gridcolor=GRID,
               griddash="5px,4px", zeroline=True, zerolinecolor="white",
               zerolinewidth=1, showline=True, linecolor="white", mirror=True,
               ticks="", ticklabelstandoff=6),
    yaxis2=dict(range=[0, 40], overlaying="y", side="right", showgrid=False,
                zeroline=False, showline=True, linecolor="white",
                tickvals=list(range(0, 41, 2)),
                ticktext=[str(v) if v % 10 == 0 else "" for v in range(0, 41, 2)],
                ticks="inside", ticklen=6, tickcolor="white", ticklabelstandoff=3,
                minor=dict(dtick=1, ticks="inside", ticklen=4, tickcolor="white"),
                title=dict(text="Neerslag (mm)", font=dict(size=10), standoff=4)),
    shapes=shapes, annotations=annos,
)

# page body has an 8px default margin; drop it so the figure sits at 0,0
fig.write_html("out.html", config={"displayModeBar": False},
               post_script="document.body.style.margin='0';")
